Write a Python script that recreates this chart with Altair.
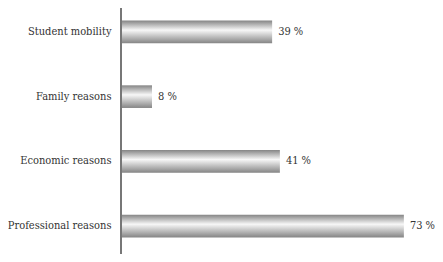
import altair as alt
import pandas as pd

categories = ["Student mobility", "Family reasons", "Economic reasons", "Professional reasons"]
values = [39, 8, 41, 73]
labels = ["39 %", "8 %", "41 %", "73 %"]

df = pd.DataFrame({"cat": categories, "val": values, "label": labels})

FONT = "DejaVu Serif Condensed"

grad = alt.Gradient(
    gradient="linear",
    x1=0, y1=0, x2=0, y2=1,
    stops=[
        alt.GradientStop(offset=0, color="#858585"),
        alt.GradientStop(offset=0.42, color="#f7f7f7"),
        alt.GradientStop(offset=1, color="#858585"),
    ],
)

x = alt.X("val:Q", scale=alt.Scale(domain=[0, 80], nice=False), axis=None)
y = alt.Y(
    "cat:N",
    sort=categories,
    scale=alt.Scale(paddingInner=0.65, paddingOuter=0.195),
    axis=alt.Axis(
        title=None, domain=False, ticks=False, labelPadding=10,
        labelFont=FONT, labelFontSize=11, labelColor="#333333",
    ),
)

bars = alt.Chart(df).mark_bar(color=grad, x=2).encode(x=x, y=y)

text = alt.Chart(df).mark_text(
    align="left", baseline="middle", dx=6, font=FONT, fontSize=11, color="#333333"
).encode(x=x, y=y, text="label:N")

rule = alt.Chart(df).mark_rule(color="#777777", strokeWidth=1.5).encode(
    x=alt.value(0), y=alt.value(0), y2=alt.value(246)
)

chart = (
    alt.layer(bars, text, rule)
    .properties(
        width=310,
        height=242,
        autosize=alt.AutoSizeParams(type="none"),
        padding={"left": 113, "top": 0, "right": 4, "bottom": 4},
    )
    .configure_view(stroke=None)
)

chart.save("out.html", embed_options={"renderer": "svg", "actions": False})
